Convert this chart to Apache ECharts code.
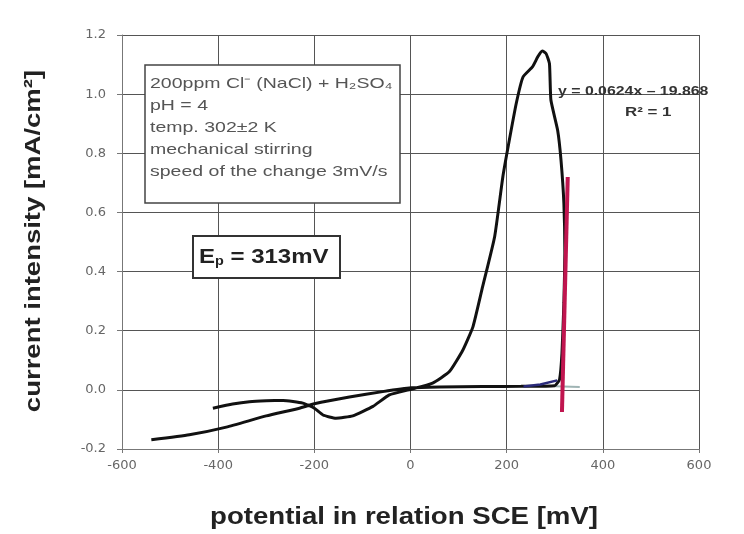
<!DOCTYPE html>
<html>
<head>
<meta charset="utf-8">
<script src="https://cdn.jsdelivr.net/npm/echarts@6/dist/echarts.min.js"></script>
<style>
  html, body { margin: 0; padding: 0; background: #fff; }
  #main { width: 744px; height: 534px; }
</style>
</head>
<body>
<div id="main"></div>
<script>
// polarization curve [potential mV, current mA/cm2]
var scanCurve = [
  [-411, -0.062], [-370, -0.048], [-335, -0.040], [-300, -0.037], [-265, -0.036],
  [-224, -0.045], [-200, -0.062], [-182, -0.085], [-155, -0.096], [-120, -0.088],
  [-78, -0.056], [-44, -0.017], [1, 0.002], [46, 0.023], [81, 0.062],
  [109, 0.135], [130, 0.214], [150, 0.349], [175, 0.518], [192, 0.72],
  [203, 0.822], [220, 0.969], [234, 1.058], [254, 1.093], [265, 1.127],
  [274, 1.146], [282, 1.137], [289, 1.103], [292, 0.98], [306, 0.878],
  [313, 0.777], [319, 0.63], [321, 0.463], [319, 0.294], [315, 0.124],
  [310, 0.035], [300, 0.014], [230, 0.012], [150, 0.011], [60, 0.010],
  [1, 0.007], [-58, -0.006], [-127, -0.024], [-200, -0.047], [-231, -0.062],
  [-300, -0.088], [-383, -0.126], [-460, -0.152], [-539, -0.169]
];
// linear fit through the breakdown branch (red)
var fitLine = [[315, -0.075], [327, 0.72]];
// passive region trend (blue) and its faint extension
var passiveLine = [[235, 0.011], [270, 0.018], [305, 0.032]];
var passiveExt = [[300, 0.012], [352, 0.010]];

var xTicks = { min: -600, max: 600, interval: 200 };
var yTicks = { min: -0.2, max: 1.2, interval: 0.2 };

var boxLines = [
  '200ppm Cl⁻ (NaCl) + H₂SO₄',
  'pH = 4',
  'temp. 302±2 K',
  'mechanical stirring',
  'speed of the change 3mV/s'
];

var chart = echarts.init(document.getElementById('main'), null, { renderer: 'canvas' });

var option = {
  backgroundColor: '#fff',
  animation: false,
  grid: { left: 122, right: 45, top: 35, bottom: 85 },
  xAxis: {
    type: 'value',
    min: xTicks.min, max: xTicks.max, interval: xTicks.interval,
    axisLine: { onZero: false, lineStyle: { color: '#777', width: 1 } },
    axisTick: { show: true, length: 4, lineStyle: { color: '#777' } },
    axisLabel: { fontFamily: 'DejaVu Sans', fontSize: 13, color: '#666', margin: 10 },
    splitLine: { show: true, lineStyle: { color: '#555', width: 1 } }
  },
  yAxis: {
    type: 'value',
    min: yTicks.min, max: yTicks.max, interval: yTicks.interval,
    axisLine: { show: true, onZero: false, lineStyle: { color: '#777', width: 1 } },
    axisTick: { show: true, length: 5, lineStyle: { color: '#777' } },
    axisLabel: {
      fontFamily: 'DejaVu Sans', fontSize: 13, color: '#666', margin: 16,
      formatter: function (v) { return v.toFixed(1); }
    },
    splitLine: { show: true, lineStyle: { color: '#555', width: 1 } }
  },
  series: [
    {
      name: 'curve', type: 'line', data: scanCurve,
      showSymbol: false, smooth: 0.15,
      lineStyle: { color: '#111', width: 3 }, z: 3
    },
    {
      name: 'ext', type: 'line', data: passiveExt,
      showSymbol: false,
      lineStyle: { color: '#9fb4b4', width: 2 }, z: 2
    },
    {
      name: 'passive', type: 'line', data: passiveLine,
      showSymbol: false,
      lineStyle: { color: '#2a2a7a', width: 2.5 }, z: 4
    },
    {
      name: 'fit', type: 'line', data: fitLine,
      showSymbol: false,
      lineStyle: { color: '#c0154f', width: 4 }, z: 5
    }
  ],
  graphic: [
    // axis titles (the picture is stretched sideways, hence scaleX)
    {
      type: 'text', x: 404, y: 518, scaleX: 1.2, z: 11,
      style: {
        text: 'potential in relation SCE [mV]', textAlign: 'center', textVerticalAlign: 'middle',
        font: 'bold 23px "Liberation Sans"', fill: '#222'
      }
    },
    {
      type: 'text', x: 34, y: 241, rotation: Math.PI / 2, scaleX: 1.25, z: 11,
      style: {
        text: 'current intensity [mA/cm²]', textAlign: 'center', textVerticalAlign: 'middle',
        font: 'bold 22px "Liberation Sans"', fill: '#222'
      }
    },
    {
      type: 'rect', x: 145, y: 65, z: 10,
      shape: { width: 255, height: 138 },
      style: { fill: '#fff', stroke: '#444', lineWidth: 1.5 }
    },
    {
      type: 'text', x: 150, y: 73, scaleX: 1.3, z: 11,
      style: {
        text: boxLines.join('\n'), textVerticalAlign: 'top',
        font: '15px "Liberation Sans"', fill: '#555', lineHeight: 22
      }
    },
    {
      type: 'rect', x: 193, y: 236, z: 10,
      shape: { width: 147, height: 42 },
      style: { fill: '#fff', stroke: '#333', lineWidth: 2 }
    },
    {
      type: 'text', x: 199, y: 247, scaleX: 1.2, z: 11,
      style: {
        text: '{a|E}{s|p}{a| = 313mV}', textVerticalAlign: 'top',
        rich: {
          a: { fontFamily: 'Liberation Sans', fontWeight: 'bold', fontSize: 20, fill: '#222' },
          s: { fontFamily: 'Liberation Sans', fontWeight: 'bold', fontSize: 12, fill: '#222', padding: [9, 0, 0, 0] }
        }
      }
    },
    {
      type: 'text', x: 558, y: 85, scaleX: 1.22, z: 11,
      style: { text: 'y = 0.0624x – 19.868', textVerticalAlign: 'top', font: 'bold 13px "Liberation Sans"', fill: '#333' }
    },
    {
      type: 'text', x: 625, y: 106, scaleX: 1.3, z: 11,
      style: { text: 'R² = 1', textVerticalAlign: 'top', font: 'bold 13px "Liberation Sans"', fill: '#333' }
    }
  ]
};

option && chart.setOption(option);
</script>
</body>
</html>
